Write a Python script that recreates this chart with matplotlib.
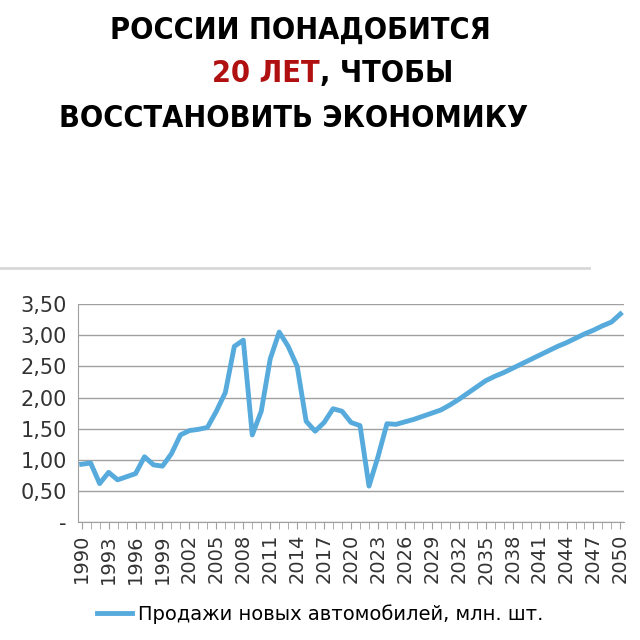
import matplotlib
matplotlib.use("Agg")
import matplotlib.pyplot as plt
from matplotlib.lines import Line2D

years = list(range(1990, 2051))
sales = [0.93, 0.95, 0.62, 0.80, 0.68, 0.73, 0.78, 1.05, 0.92, 0.90,
         1.10, 1.40, 1.47, 1.49, 1.52, 1.78, 2.08, 2.82, 2.92, 1.40,
         1.78, 2.62, 3.05, 2.82, 2.50, 1.62, 1.46, 1.60, 1.82, 1.78,
         1.60, 1.55, 0.58, 1.05, 1.58, 1.57, 1.61, 1.65, 1.70, 1.75,
         1.80, 1.88, 1.97, 2.07, 2.17, 2.27, 2.34, 2.40, 2.47, 2.54,
         2.61, 2.68, 2.75, 2.82, 2.88, 2.95, 3.02, 3.08, 3.15, 3.21, 3.34]
ytick_vals = [0, 0.5, 1.0, 1.5, 2.0, 2.5, 3.0, 3.5]
ytick_labels = ["-", "0,50", "1,00", "1,50", "2,00", "2,50", "3,00", "3,50"]
xtick_years = list(range(1990, 2051, 3))
legend_label = "Продажи новых автомобилей, млн. шт."

fig = plt.figure(figsize=(6.4, 6.4), dpi=100)
fig.patch.set_facecolor("white")

tfont = dict(family=["DejaVu Sans"], fontstretch="condensed", fontweight="bold", fontsize=22)
fig.text(0.469, 0.952, "РОССИИ ПОНАДОБИТСЯ", ha="center", va="center", color="black", **tfont)
fig.text(0.5, 0.885, "20 ЛЕТ", ha="right", va="center", color="#b01010", **tfont)
fig.text(0.5, 0.885, ", ЧТОБЫ", ha="left", va="center", color="black", **tfont)
fig.text(0.458, 0.815, "ВОССТАНОВИТЬ ЭКОНОМИКУ", ha="center", va="center", color="black", **tfont)

fig.add_artist(Line2D([0, 0.92], [0.581, 0.581], color="#d8d8d8", lw=2, transform=fig.transFigure))

ax = fig.add_axes([0.122, 0.184, 0.853, 0.341])
ax.plot(years, sales, color="#56aadc", lw=3.5, solid_joinstyle="round")
ax.set_xlim(1989.6, 2050.4)
ax.set_ylim(0, 3.5)
ax.set_yticks(ytick_vals)
ax.set_yticklabels(ytick_labels, fontsize=15, color="#333333")
ax.set_xticks(years, minor=True)
ax.set_xticks(xtick_years)
ax.set_xticklabels([str(y) for y in xtick_years], rotation=90, fontsize=14, color="#333333")
ax.grid(axis="y", color="#a0a0a0", lw=1)
ax.tick_params(axis="y", length=0, pad=8)
ax.tick_params(axis="x", which="both", length=5, color="#a0a0a0")
for s in ["top", "right"]:
    ax.spines[s].set_visible(False)
ax.spines["left"].set_color("#a0a0a0")
ax.spines["bottom"].set_color("#a0a0a0")

fig.legend(handles=[Line2D([], [], color="#56aadc", lw=3.5)], labels=[legend_label],
           loc="center", bbox_to_anchor=(0.5, 0.04), frameon=False, fontsize=14,
           handlelength=1.8, handletextpad=0.3)

fig.savefig("out.png", dpi=100)
